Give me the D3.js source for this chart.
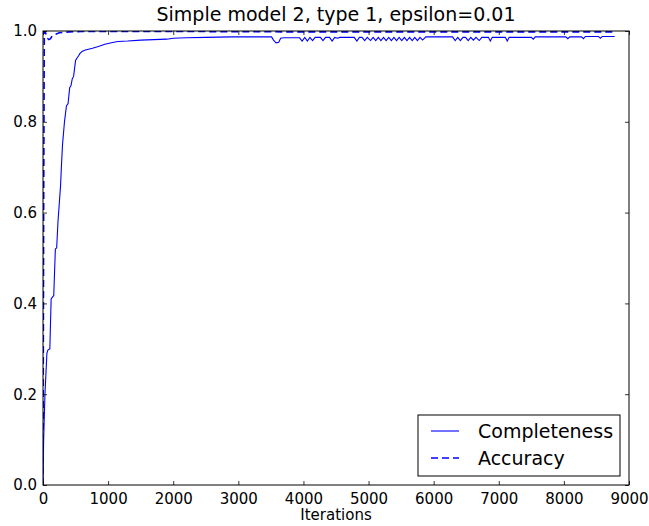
<!DOCTYPE html>
<html>
<head>
<meta charset="utf-8">
<script src="https://cdn.jsdelivr.net/npm/d3@7"></script>
<style>
  html, body { margin: 0; padding: 0; background: #fff; }
  svg { display: block; font-family: "DejaVu Sans", sans-serif; }
</style>
</head>
<body>
<svg id="chart" width="649" height="526"></svg>
<script>
'use strict'

const title = 'Simple model 2, type 1, epsilon=0.01'
const xLabel = 'Iterations'
const seriesNames = ['Completeness', 'Accuracy']
const xTicks = [0, 1000, 2000, 3000, 4000, 5000, 6000, 7000, 8000, 9000]
const yTicks = [0.0, 0.2, 0.4, 0.6, 0.8, 1.0]

// [iteration, value]
const completeness = [
  [0, 0], [10, 0.1], [30, 0.2], [60, 0.29], [75, 0.297], [105, 0.30],
  [125, 0.41], [150, 0.415], [165, 0.417], [190, 0.52], [210, 0.522],
  [230, 0.58], [250, 0.62], [270, 0.66], [282, 0.70], [300, 0.75],
  [330, 0.80], [360, 0.835], [385, 0.84], [410, 0.875], [430, 0.88],
  [450, 0.895], [470, 0.9], [500, 0.935], [520, 0.94], [545, 0.945],
  [565, 0.95], [600, 0.955], [650, 0.958], [700, 0.96], [760, 0.962],
  [850, 0.966], [950, 0.971], [1050, 0.974], [1150, 0.977], [1300, 0.978],
  [1500, 0.98], [1700, 0.981], [1900, 0.982], [2000, 0.984], [2200, 0.985],
  [2500, 0.986], [2900, 0.987], [3200, 0.987], [3510, 0.987], [3540, 0.98],
  [3580, 0.974], [3620, 0.975], [3650, 0.984], [3700, 0.985], [3940, 0.985],
  [3980, 0.978], [4020, 0.986], [4060, 0.978], [4100, 0.986], [4140, 0.979],
  [4180, 0.986], [4260, 0.986], [4300, 0.979], [4340, 0.986], [4400, 0.986],
  [4440, 0.978], [4480, 0.986], [4520, 0.984], [4560, 0.986], [4780, 0.986],
  [4820, 0.978], [4860, 0.986], [4900, 0.986], [4940, 0.979], [4980, 0.986],
  [5030, 0.979], [5070, 0.986], [5110, 0.979], [5150, 0.986], [5190, 0.979],
  [5230, 0.986], [5270, 0.979], [5310, 0.986], [5350, 0.979], [5390, 0.986],
  [5430, 0.979], [5470, 0.986], [5510, 0.979], [5550, 0.986], [5590, 0.979],
  [5630, 0.986], [5670, 0.979], [5710, 0.986], [5750, 0.979], [5790, 0.986],
  [5830, 0.98], [5880, 0.987], [6290, 0.987], [6330, 0.979], [6370, 0.986],
  [6410, 0.979], [6450, 0.986], [6490, 0.986], [6530, 0.979], [6570, 0.986],
  [6610, 0.98], [6650, 0.986], [6700, 0.979], [6740, 0.986], [6840, 0.986],
  [6870, 0.978], [6900, 0.986], [7100, 0.986], [7130, 0.978], [7160, 0.986],
  [7500, 0.986], [7530, 0.982], [7560, 0.987], [8030, 0.987], [8060, 0.983],
  [8090, 0.987], [8270, 0.987], [8300, 0.983], [8330, 0.988], [8530, 0.988],
  [8560, 0.984], [8590, 0.988], [8780, 0.988]
]

const accuracy = [
  [0, 0], [10, 0.6], [20, 1.0], [40, 0.996], [60, 0.985], [90, 0.981],
  [115, 0.983], [140, 0.989], [180, 0.992], [250, 0.996], [400, 0.998],
  [600, 0.999], [2000, 0.999], [4000, 0.998], [6000, 0.998], [8780, 0.998]
]

const svg = d3.select('#chart')
const margin = { left: 43, right: 20, top: 31, bottom: 41 }
const width = 649 - margin.left - margin.right
const height = 526 - margin.top - margin.bottom

const x = d3.scaleLinear().domain([0, 9000]).range([0, width])
const y = d3.scaleLinear().domain([0, 1]).range([height, 0])

const g = svg.append('g')
  .attr('transform', `translate(${margin.left},${margin.top})`)

const clip = g.append('clipPath').attr('id', 'clip')
clip.append('rect').attr('width', width).attr('height', height)

const line = d3.line()
  .x((d) => x(d[0]))
  .y((d) => y(d[1]))

const plot = g.append('g').attr('clip-path', 'url(#clip)')

plot.append('path')
  .datum(completeness)
  .attr('d', line)
  .attr('fill', 'none')
  .attr('stroke', '#0000ff')
  .attr('stroke-width', 1.1)

plot.append('path')
  .datum(accuracy)
  .attr('d', line)
  .attr('fill', 'none')
  .attr('stroke', '#0000ff')
  .attr('stroke-width', 1.6)
  .attr('stroke-dasharray', '7,4')

// axes: matplotlib-style inward ticks on all sides
const fmtY = d3.format('.1f')
const styleAxis = (sel) => {
  sel.select('.domain').remove()
  sel.selectAll('.tick line').attr('stroke', '#000').attr('stroke-width', 0.8)
  sel.selectAll('.tick text')
    .attr('fill', '#000')
    .style('font-size', '15px')
    .style('font-family', '"DejaVu Sans", sans-serif')
}

g.append('g')
  .attr('transform', `translate(0,${height})`)
  .call(d3.axisBottom(x).tickValues(xTicks).tickFormat(d3.format('d'))
    .tickSizeInner(-4).tickPadding(8))
  .call(styleAxis)

g.append('g')
  .call(d3.axisTop(x).tickValues(xTicks).tickFormat('').tickSizeInner(-4))
  .call(styleAxis)

g.append('g')
  .call(d3.axisLeft(y).tickValues(yTicks).tickFormat(fmtY)
    .tickSizeInner(-4).tickPadding(6))
  .call(styleAxis)

g.append('g')
  .attr('transform', `translate(${width},0)`)
  .call(d3.axisRight(y).tickValues(yTicks).tickFormat('').tickSizeInner(-4))
  .call(styleAxis)

g.append('rect')
  .attr('width', width)
  .attr('height', height)
  .attr('fill', 'none')
  .attr('stroke', '#000')
  .attr('stroke-width', 1)

svg.append('text')
  .attr('x', margin.left + width / 2)
  .attr('y', 21)
  .attr('text-anchor', 'middle')
  .style('font-size', '19px')
  .text(title)

svg.append('text')
  .attr('x', margin.left + width / 2)
  .attr('y', 520)
  .attr('text-anchor', 'middle')
  .style('font-size', '15px')
  .text(xLabel)

// legend
const legend = svg.append('g').attr('transform', 'translate(418,415)')
legend.append('rect')
  .attr('width', 202)
  .attr('height', 61)
  .attr('fill', '#fff')
  .attr('stroke', '#000')
  .attr('stroke-width', 1)

seriesNames.forEach((name, i) => {
  const ly = 16 + i * 27
  legend.append('line')
    .attr('x1', 13).attr('x2', 41)
    .attr('y1', ly).attr('y2', ly)
    .attr('stroke', '#0000ff')
    .attr('stroke-width', i === 0 ? 1.1 : 1.6)
    .attr('stroke-dasharray', i === 0 ? null : '7,4')
  legend.append('text')
    .attr('x', 60)
    .attr('y', ly + 7)
    .style('font-size', '19px')
    .text(name)
})
</script>
</body>
</html>
